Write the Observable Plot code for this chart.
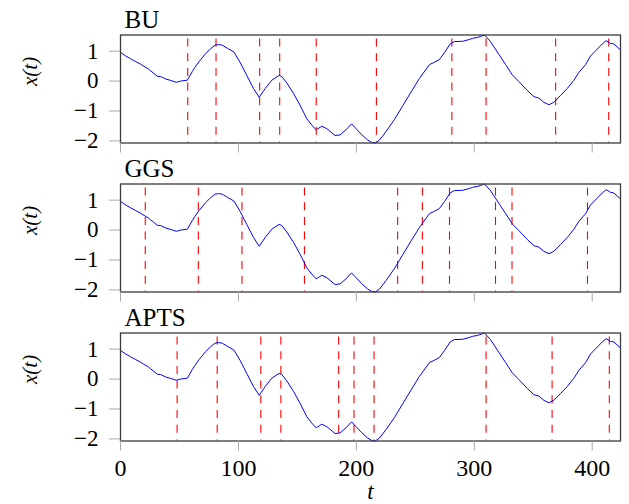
<!DOCTYPE html>
<html><head><meta charset="utf-8">
<script src="https://cdn.jsdelivr.net/npm/d3@7"></script>
<script src="https://cdn.jsdelivr.net/npm/@observablehq/plot@0.6"></script>
<style>
body{margin:0;background:#fff;}
#chart{position:relative;width:629px;height:504px;overflow:hidden;}
#chart svg{position:absolute;left:0;}
#chart svg, #chart svg text{font-family:'Liberation Serif','DejaVu Serif',serif !important;font-variant:normal !important;}
</style></head><body><div id="chart"></div>
<script>
const tValues = [0,4,8.7,13,17.2,20,23.5,25.6,28.5,31.3,34.1,38.3,42.6,47.4,51,56.7,60.9,63,66.6,72.2,76.4,80.1,83,86.3,90.5,96.2,101.5,107.2,112.8,117.6,122.7,128.3,134.5,136.8,141,146.7,152.3,158,162.2,165.9,170.7,174.9,182,186.2,191.2,196,199.7,204.5,209.6,213,216,219.7,225.3,232.4,239.4,246.5,253.5,262,266.2,270.4,274.7,279.5,283.1,290.2,295.8,298.7,302.9,308.6,313.6,320.9,326.6,332.2,337.9,344.9,350.5,354.8,359,363.3,367.5,373.2,378.8,384.5,388.7,394.4,398.6,404.3,408.5,411.9,415.5,418.4,424];
const xValues = [0.96,0.85,0.74,0.65,0.56,0.49,0.41,0.34,0.25,0.16,0.15,0.07,0.02,-0.04,0.0,0.03,0.32,0.45,0.65,0.92,1.08,1.20,1.22,1.20,1.10,0.97,0.62,0.18,-0.25,-0.54,-0.25,0.03,0.19,0.15,-0.06,-0.41,-0.81,-1.26,-1.47,-1.63,-1.51,-1.59,-1.82,-1.80,-1.63,-1.43,-1.59,-1.79,-1.97,-2.05,-2.07,-1.97,-1.68,-1.28,-0.82,-0.36,0.09,0.55,0.63,0.72,0.95,1.24,1.32,1.33,1.39,1.43,1.46,1.54,1.33,0.89,0.55,0.21,-0.02,-0.31,-0.52,-0.57,-0.71,-0.79,-0.71,-0.48,-0.25,0.03,0.29,0.55,0.84,1.07,1.24,1.35,1.26,1.24,1.04];
const methods = ["BU", "GGS", "APTS"];
const buChanges = [57, 81, 118, 135, 166, 217, 281, 310, 369, 414];
const ggsChanges = [21, 66, 103, 156, 235, 256, 279, 318, 332, 396];
const aptsChanges = [48, 82, 119, 136, 185, 198, 215, 310, 366, 414.5];
const xTicks = [0, 100, 200, 300, 400];
const yTicks = [-2, -1, 0, 1];
const xLabel = "t";
const yLabel = "x(t)";

const series = tValues.map((t, i) => ({t, x: xValues[i]}));
const changeSets = [buChanges, ggsChanges, aptsChanges];
const font = "'Liberation Serif', 'DejaVu Serif', serif";
const fmtY = d => (d < 0 ? "\u2212" + Math.abs(d) : String(d));

function panel(idx) {
  const last = idx === methods.length - 1;
  const height = last ? 206 : 156;
  const marginTop = 34.5;
  const marginBottom = height - 142.5;
  const marks = [
    Plot.ruleX(changeSets[idx], {stroke: "#ff0000", strokeWidth: 1.1, strokeDasharray: "8 6.7", strokeDashoffset: 10.7}),
    Plot.line(series, {x: "t", y: "x", stroke: "#0000ff", strokeWidth: 1}),
    Plot.frame({stroke: "#3a3a3a", strokeWidth: 1.3}),
    Plot.axisY({ticks: yTicks, tickSize: 11, tickPadding: 11, stroke: "#a8a8a8", fill: "black", fontSize: 23, label: null, tickFormat: fmtY}),
    Plot.axisX({ticks: xTicks, tickSize: 10, tickPadding: 8, stroke: "#a8a8a8", fill: "black", fontSize: 24, label: null,
      tickFormat: last ? (d => String(d)) : (() => "")}),
    Plot.text([methods[idx]], {frameAnchor: "top-left", text: d => d, dx: 4, dy: -7.5, lineAnchor: "bottom", textAnchor: "start", fontSize: 25, fill: "black"}),
    Plot.text([yLabel], {frameAnchor: "left", text: d => d, dx: -90, dy: -3, rotate: -90, fontSize: 21, fontStyle: "italic", fill: "black"})
  ];
  if (last) {
    marks.push(Plot.text([xLabel], {frameAnchor: "bottom", text: d => d, dy: 58, lineAnchor: "bottom", fontSize: 23, fontStyle: "italic", fill: "black"}));
  }
  const svg = Plot.plot({
    width: 629, height,
    marginLeft: 120, marginRight: 9, marginTop, marginBottom,
    style: {background: "transparent", overflow: "visible", fontFamily: font, color: "black"},
    x: {domain: [0, 424]},
    y: {domain: [-2.07, 1.54]},
    marks
  });
  svg.style.top = (idx * 149) + "px";
  return svg;
}
const chart = document.getElementById("chart");
methods.forEach((m, i) => chart.appendChild(panel(i)));
</script></body></html>
